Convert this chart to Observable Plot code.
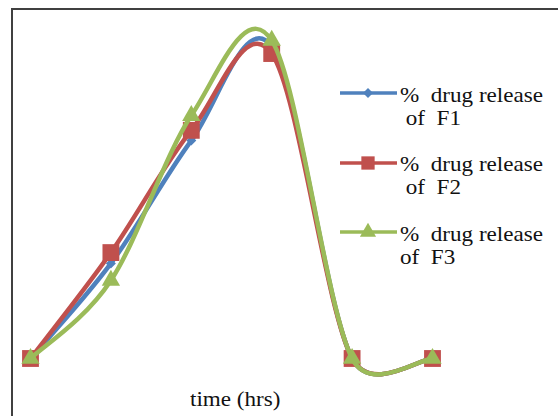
<!DOCTYPE html>
<html>
<head>
<meta charset="utf-8">
<script src="https://cdn.jsdelivr.net/npm/d3@7"></script>
<script src="https://cdn.jsdelivr.net/npm/@observablehq/plot@0.6"></script>
<style>
  body { margin: 0; background: #fff; }
  #chart { position: relative; width: 558px; height: 416px; overflow: hidden; background: #fff; }
  #frame { position: absolute; left: 11px; top: 8px; width: 700px; height: 700px; border: 2px solid #404040; pointer-events: none; }
  .txt { position: absolute; font-family: "Liberation Serif", "Times New Roman", serif; font-size: 21px; line-height: 23px;
         color: #111; white-space: pre; transform: scaleX(1.1); transform-origin: 0 0; }
  .swatch { position: absolute; }
</style>
</head>
<body>
<div id="chart"><div id="frame"></div></div>
<script>
// Sampling times (hours) and % drug release for the three formulations
const hours = [0, 1, 2, 3, 4, 5];
const releaseF1 = [0, 29.7, 68.1, 97.5, 0, 0];
const releaseF2 = [0, 33.1, 71.3, 95.3, 0, 0];
const releaseF3 = [0, 24.4, 75.9, 99.4, 0, 0];
const seriesLabels = ["F1", "F2", "F3"];
const seriesColors = ["#4F81BD", "#C0504D", "#9BBB59"];
const seriesSymbols = ["diamond2", "square", "triangle"];
const xAxisLabel = "time (hrs)";
const legendPrefix = "%  drug release";

// Spreadsheet-style smoothed line: cubic Bézier segments whose handles are
// (next - previous) / 6, with each handle kept within half its segment's length.
function smoothLine(context) {
  let pts;
  return {
    areaStart() {}, areaEnd() {},
    lineStart() { pts = []; },
    point(x, y) { pts.push([+x, +y]); },
    lineEnd() {
      const n = pts.length;
      if (!n) return;
      context.moveTo(pts[0][0], pts[0][1]);
      if (n === 1) return;
      const tan = pts.map((p, i) => {
        const a = pts[Math.max(0, i - 1)], b = pts[Math.min(n - 1, i + 1)];
        return [(b[0] - a[0]) / 6, (b[1] - a[1]) / 6];
      });
      const cap = (t, len) => {
        const l = Math.hypot(t[0], t[1]), m = len / 2;
        return l > m ? [t[0] * m / l, t[1] * m / l] : t;
      };
      for (let i = 0; i < n - 1; i++) {
        const p = pts[i], q = pts[i + 1];
        const len = Math.hypot(q[0] - p[0], q[1] - p[1]);
        const t0 = cap(tan[i], len), t1 = cap(tan[i + 1], len);
        context.bezierCurveTo(p[0] + t0[0], p[1] + t0[1], q[0] - t1[0], q[1] - t1[1], q[0], q[1]);
      }
    }
  };
}

const seriesValues = [releaseF1, releaseF2, releaseF3];
const series = seriesLabels.map((name, i) => ({
  name,
  color: seriesColors[i],
  symbol: seriesSymbols[i],
  r: [4.5, 9.5, 6.8][i],
  rows: hours.map((h, j) => ({hour: h, value: seriesValues[i][j]}))
}));

const marks = [];
for (const s of series) {
  marks.push(Plot.line(s.rows, {x: "hour", y: "value", stroke: s.color, strokeWidth: 4.5,
    curve: smoothLine, strokeLinejoin: "round", strokeLinecap: "round"}));
  marks.push(Plot.dot(s.rows, {x: "hour", y: "value", symbol: s.symbol, r: s.r, fill: s.color, stroke: "none"}));
}

const plot = Plot.plot({
  width: 558,
  height: 416,
  marginLeft: 30,
  marginRight: 126,
  marginTop: 38,
  marginBottom: 58,
  style: {background: "transparent", overflow: "visible"},
  x: {domain: [0, 5], axis: null},
  y: {domain: [0, 100], axis: null},
  marks
});
plot.style.position = "absolute";
plot.style.left = "0px";
plot.style.top = "0px";

const chart = document.getElementById("chart");
chart.insertBefore(plot, chart.firstChild);

// x-axis title
const xl = document.createElement("div");
xl.className = "txt";
xl.textContent = xAxisLabel;
xl.style.left = "190px";
xl.style.top = "388px";
chart.appendChild(xl);

// legend: swatch line with marker, two-line label
const symbolMap = {diamond2: d3.symbolDiamond2, square: d3.symbolSquare, triangle: d3.symbolTriangle};
const legendR = [4.5, 7.5, 6];
series.forEach((s, i) => {
  const cy = 93 + i * 69.5;
  const sw = d3.create("svg").attr("class", "swatch").attr("width", 60).attr("height", 24)
    .style("left", "339px").style("top", `${cy - 12}px`);
  sw.append("line").attr("x1", 1).attr("x2", 58).attr("y1", 12).attr("y2", 12)
    .attr("stroke", s.color).attr("stroke-width", 3.5);
  sw.append("path").attr("transform", "translate(29,12)")
    .attr("d", d3.symbol(symbolMap[s.symbol], Math.PI * legendR[i] ** 2)())
    .attr("fill", s.color);
  chart.appendChild(sw.node());

  const t = document.createElement("div");
  t.className = "txt";
  t.style.left = "400px";
  t.style.top = `${cy - 9.5}px`;
  const indent = i < 2 ? " " : "";
  t.textContent = legendPrefix + "\n" + indent + "of  " + s.name;
  chart.appendChild(t);
});
</script>
</body>
</html>
